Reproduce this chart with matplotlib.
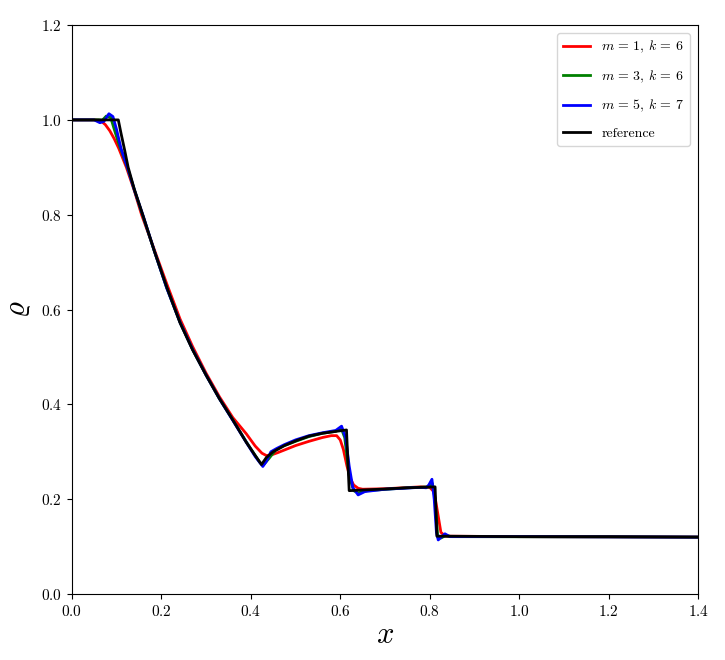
import numpy as np
import matplotlib.pyplot as plt

plt.rcParams['font.family'] = 'serif'
plt.rcParams['font.serif'] = ['cmr10']
plt.rcParams['mathtext.fontset'] = 'cm'
plt.rcParams['axes.formatter.use_mathtext'] = True

# reference solution
ref_x = [0.0, 0.104, 0.11, 0.118, 0.126, 0.14, 0.16, 0.185, 0.212, 0.242, 0.27, 0.30,
         0.33, 0.36, 0.39, 0.41, 0.424, 0.435, 0.45, 0.475, 0.503, 0.53, 0.56, 0.59,
         0.614, 0.62, 0.689, 0.75, 0.812, 0.816, 1.0, 1.2, 1.4]
ref_y = [1.0, 1.0, 0.972, 0.937, 0.90, 0.853, 0.796, 0.722, 0.648, 0.572, 0.515, 0.462,
         0.412, 0.367, 0.32, 0.292, 0.273, 0.288, 0.300, 0.313, 0.324, 0.333, 0.339, 0.343,
         0.346, 0.218, 0.221, 0.224, 0.226, 0.122, 0.121, 0.121, 0.12]

# m = 1, k = 6
m1_x = [0.0, 0.05, 0.065, 0.075, 0.085, 0.095, 0.105, 0.122, 0.14, 0.156, 0.185, 0.212,
        0.242, 0.27, 0.30, 0.33, 0.36, 0.39, 0.41, 0.425, 0.435, 0.445, 0.46, 0.50, 0.53,
        0.56, 0.58, 0.592, 0.60, 0.607, 0.615, 0.622, 0.63, 0.64, 0.65, 0.70, 0.78, 0.80,
        0.81, 0.818, 0.825, 0.835, 1.0, 1.4]
m1_y = [1.0, 1.0, 0.998, 0.99, 0.977, 0.96, 0.94, 0.90, 0.85, 0.80, 0.725, 0.655,
        0.58, 0.522, 0.466, 0.416, 0.372, 0.338, 0.312, 0.297, 0.292, 0.293, 0.298, 0.313, 0.322,
        0.33, 0.334, 0.334, 0.325, 0.305, 0.27, 0.245, 0.23, 0.223, 0.221, 0.222, 0.226, 0.225,
        0.215, 0.17, 0.13, 0.122, 0.121, 0.12]

# m = 3, k = 6
m3_x = [0.0, 0.06, 0.068, 0.077, 0.087, 0.095, 0.105, 0.124, 0.14, 0.158, 0.185, 0.212,
        0.242, 0.27, 0.30, 0.33, 0.36, 0.39, 0.41, 0.42, 0.428, 0.44, 0.455, 0.475, 0.503,
        0.53, 0.56, 0.59, 0.602, 0.61, 0.62, 0.63, 0.64, 0.66, 0.75, 0.80, 0.806, 0.812,
        0.818, 0.825, 0.835, 0.85, 1.4]
m3_y = [1.0, 1.0, 0.999, 1.008, 1.005, 0.98, 0.95, 0.90, 0.852, 0.80, 0.722, 0.646,
        0.573, 0.516, 0.462, 0.412, 0.367, 0.321, 0.292, 0.278, 0.272, 0.285, 0.303, 0.313, 0.323,
        0.332, 0.339, 0.343, 0.35, 0.33, 0.25, 0.218, 0.213, 0.218, 0.224, 0.226, 0.233, 0.2,
        0.12, 0.118, 0.123, 0.121, 0.12]

# m = 5, k = 7
m5_x = [0.0, 0.05, 0.063, 0.072, 0.083, 0.092, 0.10, 0.11, 0.126, 0.14, 0.16, 0.185,
        0.212, 0.242, 0.27, 0.30, 0.33, 0.36, 0.39, 0.41, 0.418, 0.427, 0.435, 0.445, 0.458,
        0.475, 0.50, 0.53, 0.56, 0.59, 0.603, 0.612, 0.62, 0.628, 0.64, 0.655, 0.70, 0.78,
        0.792, 0.798, 0.805, 0.81, 0.815, 0.819, 0.826, 0.834, 0.845, 1.0, 1.4]
m5_y = [1.0, 1.0, 0.994, 0.997, 1.013, 1.007, 0.98, 0.94, 0.895, 0.852, 0.796, 0.722,
        0.646, 0.573, 0.516, 0.462, 0.412, 0.366, 0.32, 0.29, 0.28, 0.269, 0.28, 0.30, 0.307,
        0.315, 0.325, 0.334, 0.340, 0.345, 0.354, 0.33, 0.27, 0.225, 0.209, 0.216, 0.221, 0.225,
        0.224, 0.23, 0.242, 0.2, 0.13, 0.114, 0.12, 0.127, 0.121, 0.121, 0.12]

fig = plt.figure(figsize=(7.25, 6.6), dpi=100)
ax = fig.add_axes([0.099, 0.1, 0.864, 0.862])

ax.plot(m1_x, m1_y, color='red', lw=2, label=r'$m\,=\,1,\,k\,=\,6$')
ax.plot(m3_x, m3_y, color='green', lw=2, label=r'$m\,=\,3,\,k\,=\,6$')
ax.plot(m5_x, m5_y, color='blue', lw=2, label=r'$m\,=\,5,\,k\,=\,7$')
ax.plot(ref_x, ref_y, color='black', lw=2, label='reference')

ax.set_xlim(0, 1.4)
ax.set_ylim(0, 1.2)
ax.set_xticks(np.arange(0, 1.41, 0.2))
ax.set_yticks(np.arange(0, 1.21, 0.2))
ax.tick_params(labelsize=11)
ax.set_xlabel(r'$x$', fontsize=22, labelpad=2)
ax.set_ylabel(r'$\varrho$', fontsize=22, labelpad=6)
ax.legend(loc='upper right', fontsize=10, labelspacing=0.95, borderaxespad=0.6)

fig.savefig('out.png', dpi=100)
